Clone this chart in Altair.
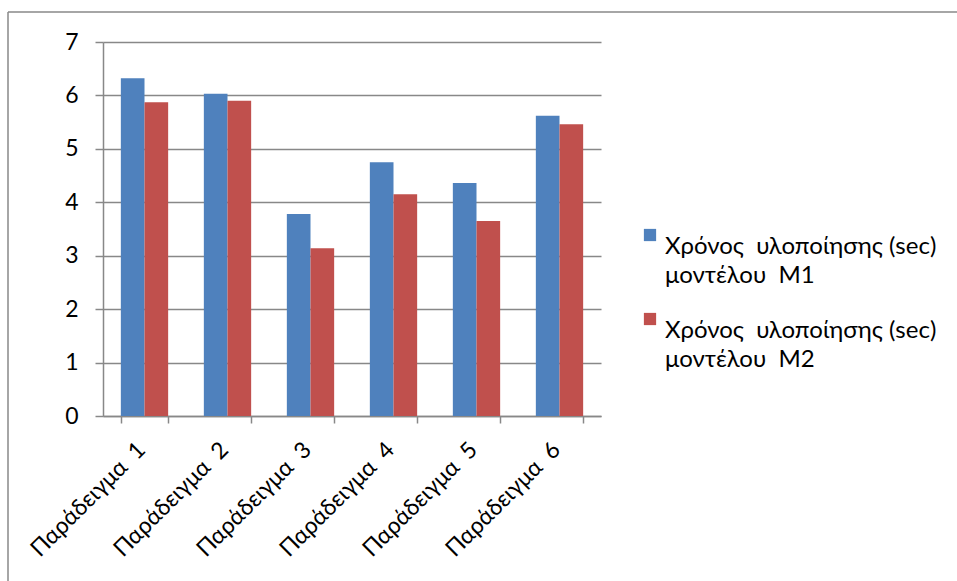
import altair as alt
import pandas as pd

# Execution time per example for the two models
examples = ["Παράδειγμα 1", "Παράδειγμα 2", "Παράδειγμα 3",
            "Παράδειγμα 4", "Παράδειγμα 5", "Παράδειγμα 6"]
m1_times = [6.32, 6.03, 3.78, 4.75, 4.36, 5.62]
m2_times = [5.87, 5.90, 3.14, 4.15, 3.65, 5.46]
series = ["Χρόνος\u00a0 υλοποίησης (sec)\nμοντέλου\u00a0 M1",
          "Χρόνος\u00a0 υλοποίησης (sec)\nμοντέλου\u00a0 M2"]
colors = ["#4F81BD", "#C0504D"]
y_ticks = [0, 1, 2, 3, 4, 5, 6, 7]

rows = []
for name, vals in zip(series, [m1_times, m2_times]):
    for ex, v in zip(examples, vals):
        rows.append({"example": ex, "series": name, "time": v})
df = pd.DataFrame(rows)

GRAY = "#888888"
FONT = "Lato"
FS = 23

bars = alt.Chart(df).mark_bar().encode(
    x=alt.X("example:N", sort=examples,
            scale=alt.Scale(paddingInner=0.43, paddingOuter=0.215),
            axis=alt.Axis(title=None, labelAngle=-45, labelAlign="right",
                          labelBaseline="top", labelPadding=15, labelOffset=-11,
                          labelFontSize=FS, labelFont=FONT, labelColor="#000",
                          tickBand="extent", tickSize=7, tickColor=GRAY,
                          tickWidth=1.5, domainColor=GRAY, domainWidth=1.5,
                          grid=False,
                          labelExpr="replace(datum.label, ' ', '\u00a0 ')")),
    xOffset=alt.XOffset("series:N", sort=series),
    y=alt.Y("time:Q", scale=alt.Scale(domain=[0, 7], nice=False),
            axis=alt.Axis(title=None, values=y_ticks, tickSize=8,
                          tickColor=GRAY, tickWidth=1.5, labelPadding=17,
                          labelFontSize=FS, labelFont=FONT, labelColor="#000",
                          domainColor=GRAY, domainWidth=1.5,
                          gridColor=GRAY, gridWidth=1.5)),
    color=alt.Color("series:N", sort=series,
                    scale=alt.Scale(domain=series, range=colors),
                    legend=alt.Legend(title=None, orient="none",
                                      legendX=535, legendY=181,
                                      symbolType="square", symbolSize=150,
                                      symbolStrokeWidth=0, symbolOpacity=1,
                                      labelFont=FONT, labelFontSize=24,
                                      labelColor="#000", labelBaseline="top",
                                      labelOffset=3, rowPadding=19,
                                      labelLimit=400,
                                      labelExpr="split(datum.label, '\\n')")),
)

# Outer chart frame (top and left edges)
frame_top = alt.Chart(pd.DataFrame({"k": [0]})).mark_rule(
    color=GRAY, strokeWidth=1.5
).encode(x=alt.value(-95), x2=alt.value(860), y=alt.value(-30))
frame_left = alt.Chart(pd.DataFrame({"k": [0]})).mark_rule(
    color=GRAY, strokeWidth=1.5
).encode(x=alt.value(-95), y=alt.value(-30), y2=alt.value(545))

chart = alt.layer(frame_top, frame_left, bars).properties(
    width=498, height=374,
    autosize=alt.AutoSizeParams(type="none"),
    padding={"left": 103, "top": 42, "right": 356, "bottom": 165},
    background="white",
).configure(
    style={"guide-label": {"lineHeight": 29}}
).configure_view(stroke="transparent")

chart.save("out.html", embed_options={"renderer": "svg", "actions": False})
